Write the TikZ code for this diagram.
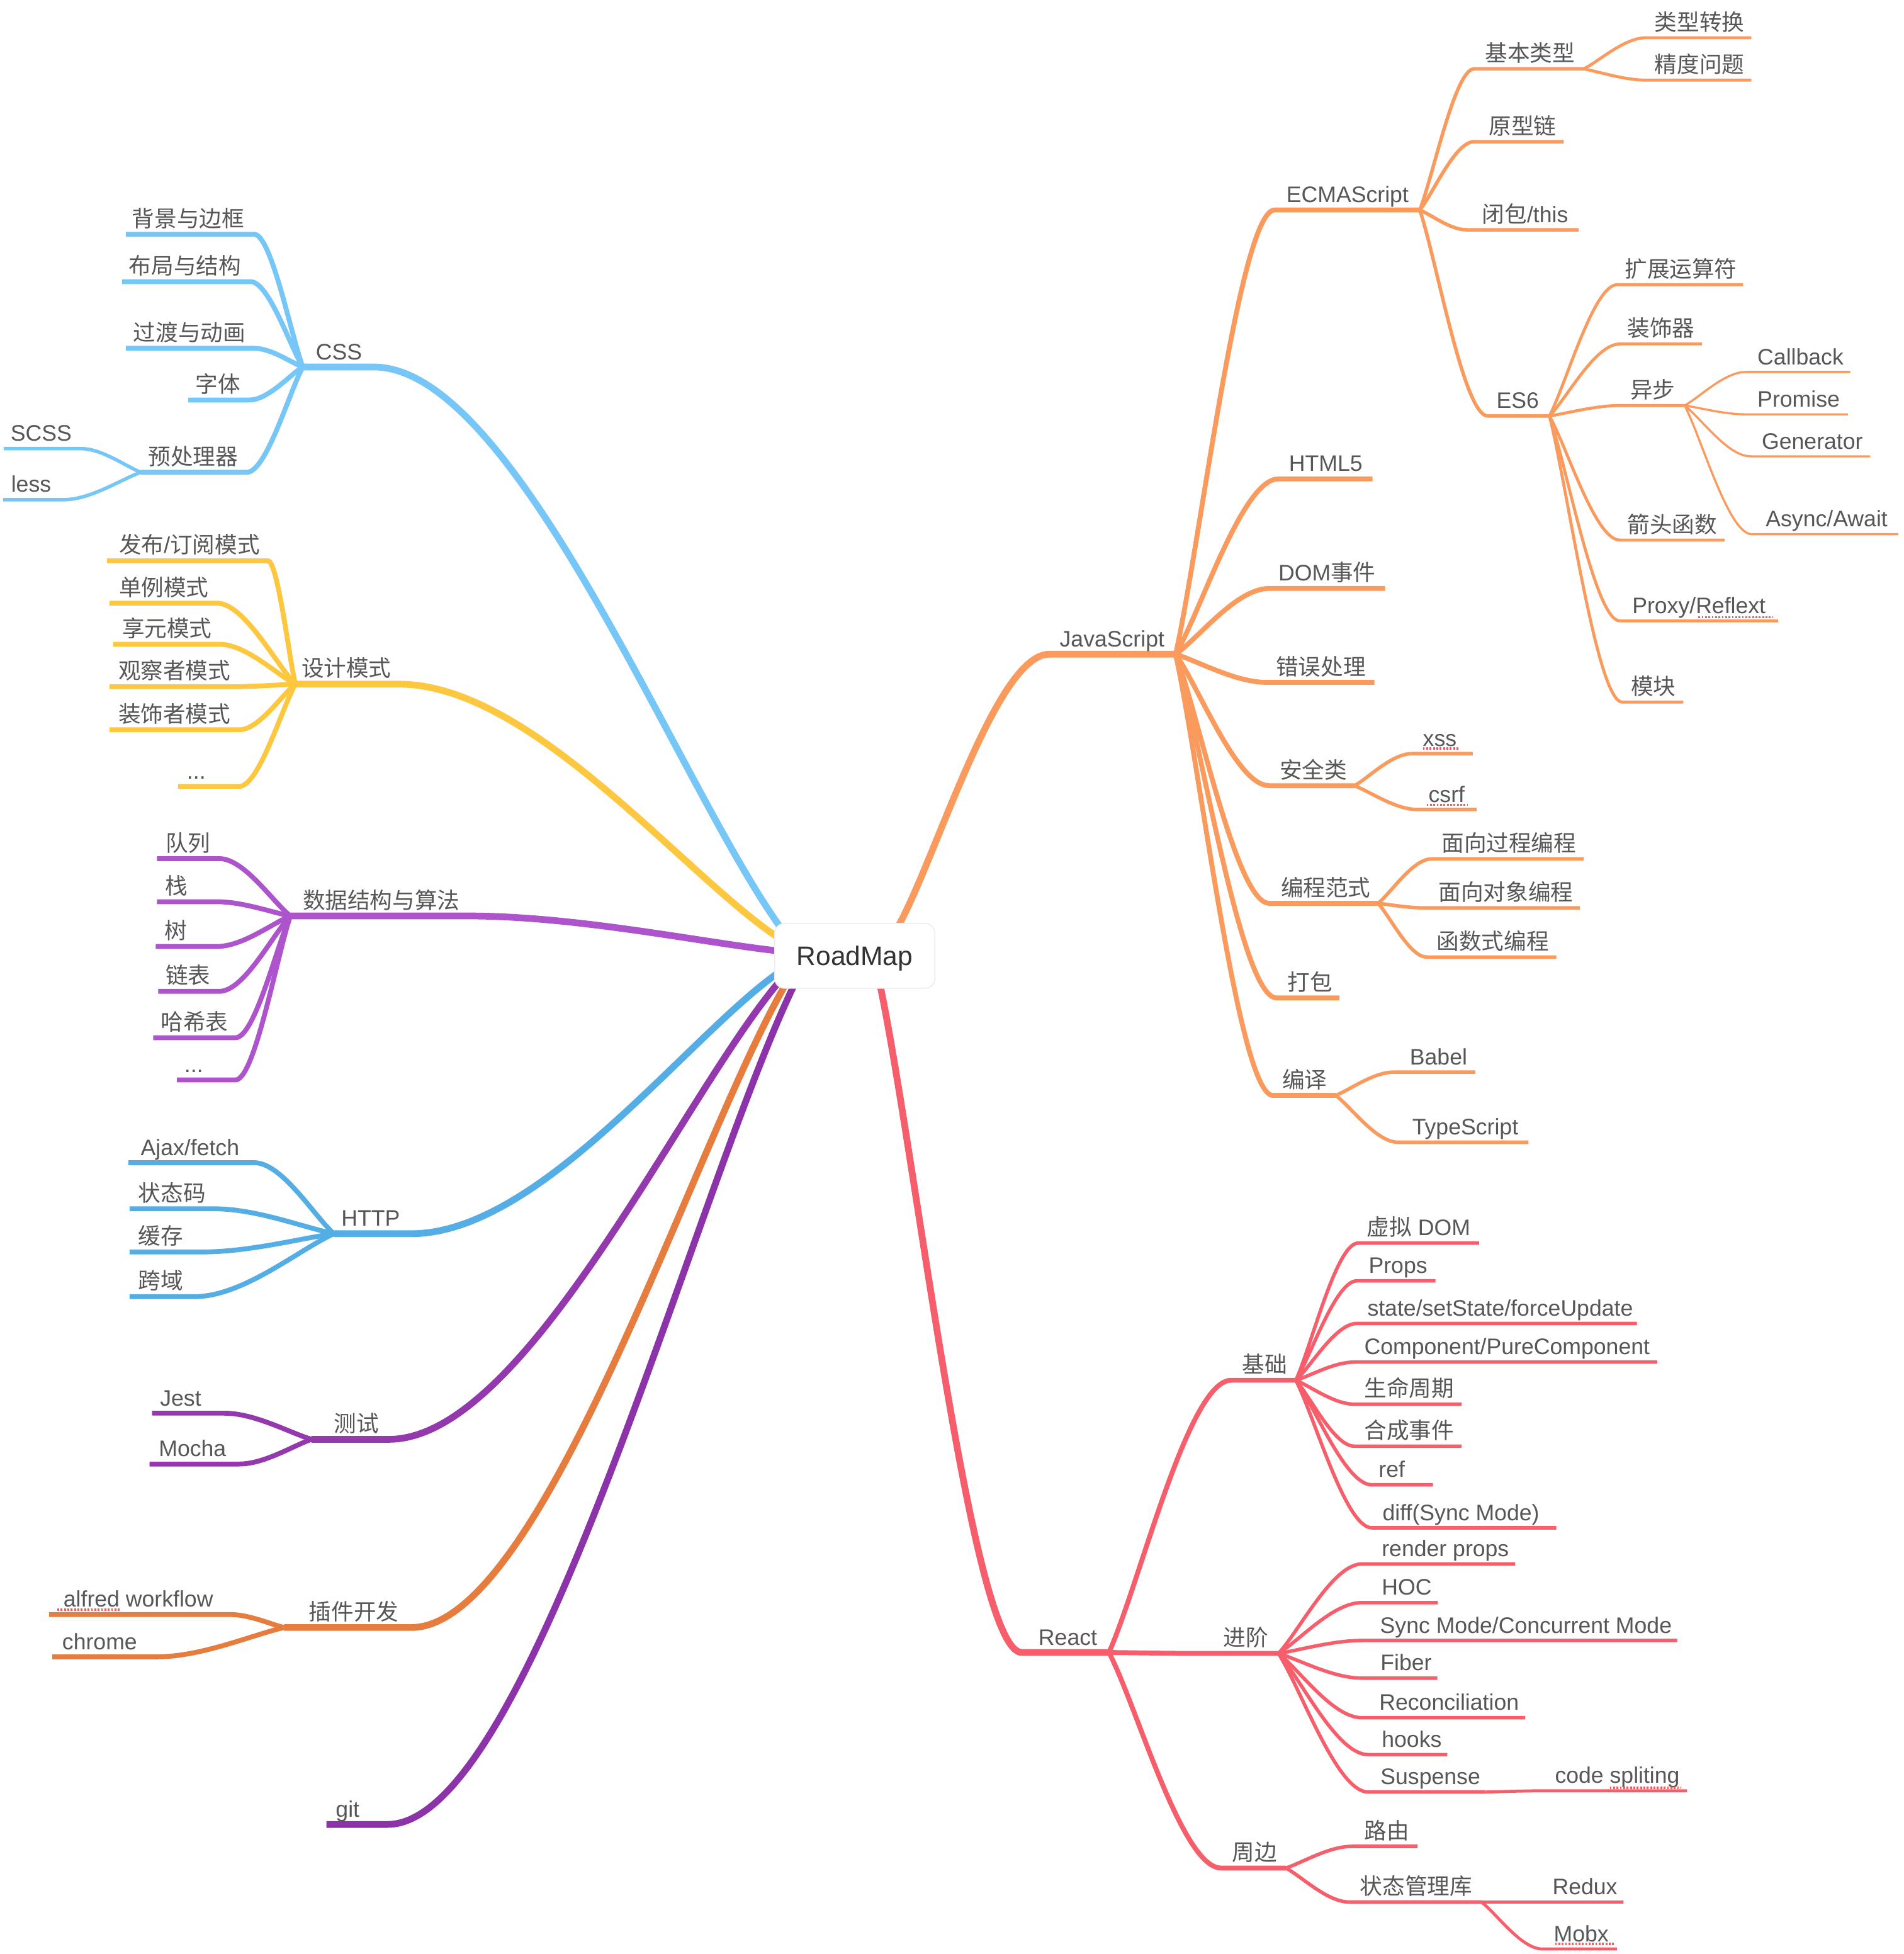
\documentclass[tikz,border=0pt]{standalone}
\usepackage{fontspec}
\setmainfont{Liberation Sans}
\newfontfamily\cjkfont{Noto Sans CJK SC}
\usetikzlibrary{calc}
\newcommand\zh[1]{{\cjkfont #1}}
\definecolor{txt}{HTML}{575757}
\definecolor{cjs}{HTML}{FA9A5C}
\definecolor{crc}{HTML}{F65E6B}
\definecolor{ccss}{HTML}{76C6F8}
\definecolor{cdp}{HTML}{FDC83F}
\definecolor{cds}{HTML}{AD54CD}
\definecolor{chttp}{HTML}{55ADE6}
\definecolor{ctest}{HTML}{9338AD}
\definecolor{cplug}{HTML}{E67D3E}
\definecolor{cgit}{HTML}{8C33AA}
\definecolor{spellred}{HTML}{F45A5A}
\pgfdeclarelayer{paper}
\pgfdeclarelayer{back}
\pgfsetlayers{paper,back,main}
% #1 name, #2 parent point, #3 near x, #4 far x, #5 y, #6 label centre x, #7 text, #8 style
\newcommand\br[8]{%
  \coordinate (#1a) at (#3,#5);
  \coordinate (#1b) at (#4,#5);
  \draw[#8] (#2) .. controls ($(#2)!0.25!(#1a)$) and ($(#1a)!0.35!(#2|-#1a)$) .. (#1a) -- (#1b);
  \node[lbl] (#1) at (#6,#5-6) {#7};
}
\begin{document}
\begin{tikzpicture}[x=1pt,y=-1pt,line cap=round,
  L1/.style={line width=5.4pt},
  L2/.style={line width=3.9pt},
  L3/.style={line width=2.8pt},
  L4/.style={line width=2.4pt},
  L5/.style={line width=1.7pt},
  lbl/.style={anchor=base,inner sep=0pt,text=txt,font=\fontsize{18}{21}\selectfont},
  rootbox/.style={draw=black!7,line width=0.8pt,fill=white,rounded corners=8pt,
    minimum width=128.5pt,minimum height=52pt,inner sep=0pt,text=black!80,
    text height=15.4pt,text depth=0pt,font=\fontsize{21.5}{24}\selectfont},
  spell/.style={draw=spellred,line width=1.9pt,line cap=butt,dash pattern=on 1.4pt off 1.3pt}]
\begin{pgfonlayer}{paper}
\fill[white] (0,0) rectangle (1528,1568);
\end{pgfonlayer}
\useasboundingbox (0,0) rectangle (1528,1568);

\node[rootbox] (root) at (686,767) {RoadMap};
\coordinate (rJS) at ($(root.center)+(35,-24)$);
\coordinate (rReact) at ($(root.center)+(20,22)$);
\coordinate (rCSS) at ($(root.center)+(-59,-22)$);
\coordinate (rDP) at ($(root.center)+(-62,-15)$);
\coordinate (rDS) at ($(root.center)+(-62,-4)$);
\coordinate (rHTTP) at ($(root.center)+(-62,14)$);
\coordinate (rTest) at ($(root.center)+(-60,20)$);
\coordinate (rPlug) at ($(root.center)+(-55,22)$);
\coordinate (rGit) at ($(root.center)+(-48,22)$);

\begin{pgfonlayer}{back}
% ---------------- JavaScript ----------------
\br{js}{rJS}{842}{943.5}{525}{892.5}{JavaScript}{cjs,L1}
\br{ecma}{jsb}{1023}{1139.5}{168.5}{1081.5}{ECMAScript}{cjs,L2}
\br{basic}{ecmab}{1183}{1271}{55.3}{1228}{\zh{基本类型}}{cjs,L3}
\br{conv}{basicb}{1321}{1405.5}{30.3}{1364}{\zh{类型转换}}{cjs,L4}
\br{prec}{basicb}{1321}{1405.5}{64.3}{1364}{\zh{精度问题}}{cjs,L4}
\br{proto}{ecmab}{1183}{1255}{113.7}{1222}{\zh{原型链}}{cjs,L3}
\br{closure}{ecmab}{1177}{1267}{184.4}{1224}{\zh{闭包}/this}{cjs,L3}
\br{es}{ecmab}{1194}{1243.5}{333.8}{1218}{ES6}{cjs,L3}
\br{spread}{esb}{1298}{1399}{228.4}{1349}{\zh{扩展运算符}}{cjs,L4}
\br{deco}{esb}{1300}{1366}{276}{1333}{\zh{装饰器}}{cjs,L4}
\br{async}{esb}{1300}{1352}{325.4}{1326.5}{\zh{异步}}{cjs,L4}
\br{cb}{asyncb}{1401}{1485}{298.5}{1445}{Callback}{cjs,L5}
\br{prom}{asyncb}{1401}{1483}{332.5}{1443.5}{Promise}{cjs,L5}
\br{gen}{asyncb}{1405}{1501}{366.2}{1454.5}{Generator}{cjs,L5}
\br{aw}{asyncb}{1406}{1523.6}{428.7}{1466}{Async/Await}{cjs,L5}
\br{arrow}{esb}{1300}{1384}{433.4}{1342}{\zh{箭头函数}}{cjs,L4}
\br{proxy}{esb}{1300}{1427}{498.2}{1363.5}{Proxy/Reflext}{cjs,L4}
\br{module}{esb}{1302}{1351}{563.4}{1327}{\zh{模块}}{cjs,L4}
\br{html}{jsb}{1026}{1101.5}{384.3}{1064}{HTML5}{cjs,L2}
\br{dom}{jsb}{1018.5}{1111.6}{472.2}{1065}{DOM\zh{事件}}{cjs,L2}
\br{err}{jsb}{1017}{1103}{547.6}{1060}{\zh{错误处理}}{cjs,L2}
\br{sec}{jsb}{1018.7}{1087}{630.5}{1054}{\zh{安全类}}{cjs,L2}
\br{xss}{secb}{1133}{1182}{604.8}{1155.5}{xss}{cjs,L3}
\br{csrf}{secb}{1137.5}{1185}{649.6}{1161}{csrf}{cjs,L3}
\br{para}{jsb}{1018.7}{1106}{724.9}{1064}{\zh{编程范式}}{cjs,L2}
\br{proc}{parab}{1149}{1271}{689.2}{1211}{\zh{面向过程编程}}{cjs,L3}
\br{oop}{parab}{1142}{1268}{728.5}{1208.5}{\zh{面向对象编程}}{cjs,L3}
\br{func}{parab}{1145}{1249}{768}{1198}{\zh{函数式编程}}{cjs,L3}
\br{pack}{jsb}{1024.5}{1075}{800.8}{1051.5}{\zh{打包}}{cjs,L2}
\br{comp}{jsb}{1021.6}{1072}{879}{1047}{\zh{编译}}{cjs,L2}
\br{babel}{compb}{1118.7}{1184}{860.3}{1154.5}{Babel}{cjs,L3}
\br{ts}{compb}{1122}{1226.7}{916.6}{1176}{TypeScript}{cjs,L3}
% ---------------- React ----------------
\br{react}{rReact}{820}{890}{1326}{857}{React}{crc,L1}
\br{base}{reactb}{988}{1040}{1107.6}{1015}{\zh{基础}}{crc,L2}
\br{vdom}{baseb}{1090}{1187}{997.5}{1138.5}{\zh{虚拟} DOM}{crc,L3}
\br{props}{baseb}{1089}{1152}{1027.8}{1122}{Props}{crc,L3}
\br{state}{baseb}{1089}{1313.7}{1062}{1204}{state/setState/forceUpdate}{crc,L3}
\br{compo}{baseb}{1087}{1330}{1093}{1209.5}{Component/PureComponent}{crc,L3}
\br{life}{baseb}{1087}{1173}{1126.8}{1131}{\zh{生命周期}}{crc,L3}
\br{syn}{baseb}{1087}{1173}{1160.5}{1131}{\zh{合成事件}}{crc,L3}
\br{ref}{baseb}{1101}{1150}{1191.5}{1117}{ref}{crc,L3}
\br{diff}{baseb}{1101}{1249}{1226}{1172.5}{diff(Sync Mode)}{crc,L3}
\br{adv}{reactb}{962}{1026}{1326.8}{1000}{\zh{进阶}}{crc,L2}
\br{rp}{advb}{1093}{1216}{1255}{1160}{render props}{crc,L3}
\br{hoc}{advb}{1093}{1154}{1286}{1129}{HOC}{crc,L3}
\br{sync}{advb}{1093}{1346}{1316.4}{1224.7}{Sync Mode/Concurrent Mode}{crc,L3}
\br{fiber}{advb}{1093}{1153.6}{1346.6}{1128.5}{Fiber}{crc,L3}
\br{recon}{advb}{1093}{1224}{1378.4}{1163}{Reconciliation}{crc,L3}
\br{hooks}{advb}{1098}{1161.5}{1408}{1133}{hooks}{crc,L3}
\br{susp}{advb}{1098}{1192}{1438}{1148}{Suspense}{crc,L3}
\br{code}{suspb}{1240}{1354}{1437}{1298}{code spliting}{crc,L4}
\br{peri}{reactb}{980}{1032}{1499}{1007}{\zh{周边}}{crc,L2}
\br{route}{perib}{1085}{1137.7}{1481.6}{1113}{\zh{路由}}{crc,L3}
\br{store}{perib}{1083}{1189}{1526.3}{1136.5}{\zh{状态管理库}}{crc,L3}
\br{redux}{storeb}{1235}{1303}{1526.3}{1272}{Redux}{crc,L4}
\br{mobx}{storeb}{1238}{1297.6}{1564}{1269}{Mobx}{crc,L4}
% ---------------- CSS ----------------
\br{css}{rCSS}{300}{243}{294.5}{272}{CSS}{ccss,L1}
\br{bg}{cssb}{204}{101}{188}{151}{\zh{背景与边框}}{ccss,L2}
\br{lay}{cssb}{201}{98}{226}{148.5}{\zh{布局与结构}}{ccss,L2}
\br{trans}{cssb}{204}{101}{279.5}{152}{\zh{过渡与动画}}{ccss,L2}
\br{font}{cssb}{200}{151}{321}{175}{\zh{字体}}{ccss,L2}
\br{pre}{cssb}{198}{113}{379}{155}{\zh{预处理器}}{ccss,L2}
\br{scss}{preb}{65}{3}{360}{33}{SCSS}{ccss,L3}
\br{less}{preb}{51}{2.5}{401}{25}{less}{ccss,L3}
% ---------------- Design patterns ----------------
\br{dp}{rDP}{320}{237}{549}{278}{\zh{设计模式}}{cdp,L1}
\br{pub}{dpb}{215}{86}{450}{152}{\zh{发布}/\zh{订阅模式}}{cdp,L2}
\br{single}{dpb}{174}{88}{484}{131.5}{\zh{单例模式}}{cdp,L2}
\br{fly}{dpb}{176}{91}{517}{134}{\zh{享元模式}}{cdp,L2}
\br{obs}{dpb}{187}{88}{551}{140}{\zh{观察者模式}}{cdp,L2}
\br{decp}{dpb}{192}{88}{585.6}{140}{\zh{装饰者模式}}{cdp,L2}
\br{dpmore}{dpb}{192}{143}{631}{157.5}{...}{cdp,L2}
% ---------------- Data structures ----------------
\br{ds}{rDS}{375}{233}{735}{306}{\zh{数据结构与算法}}{cds,L1}
\br{queue}{dsb}{176}{126}{689}{151}{\zh{队列}}{cds,L2}
\br{stack}{dsb}{174}{126}{723.6}{141.5}{\zh{栈}}{cds,L2}
\br{tree}{dsb}{174}{125}{759.5}{141}{\zh{树}}{cds,L2}
\br{list}{dsb}{176}{127}{795.5}{151}{\zh{链表}}{cds,L2}
\br{hash}{dsb}{189}{123}{832.7}{156}{\zh{哈希表}}{cds,L2}
\br{dsmore}{dsb}{189}{142}{866.6}{155.5}{...}{cds,L2}
% ---------------- HTTP ----------------
\br{http}{rHTTP}{330}{268}{990}{297.5}{HTTP}{chttp,L1}
\br{ajax}{httpb}{204}{103}{933}{152.5}{Ajax/fetch}{chttp,L2}
\br{status}{httpb}{172}{104}{970}{138}{\zh{状态码}}{chttp,L2}
\br{cache}{httpb}{163}{104}{1004.6}{129}{\zh{缓存}}{chttp,L2}
\br{cors}{httpb}{156}{104}{1040.5}{129}{\zh{跨域}}{chttp,L2}
% ---------------- Test ----------------
\br{test}{rTest}{312}{250}{1155}{286}{\zh{测试}}{ctest,L1}
\br{jest}{testb}{180}{122}{1134}{145}{Jest}{ctest,L2}
\br{mocha}{testb}{192}{120}{1174.8}{154.5}{Mocha}{ctest,L2}
% ---------------- Plugins ----------------
\br{plug}{rPlug}{330}{228}{1306}{284}{\zh{插件开发}}{cplug,L1}
\br{alfred}{plugb}{185}{39.5}{1295.6}{111}{alfred workflow}{cplug,L2}
\br{chrome}{plugb}{126}{42}{1329.5}{80}{chrome}{cplug,L2}
% ---------------- git ----------------
\br{git}{rGit}{311}{262}{1464}{279}{git}{cgit,L1}
\end{pgfonlayer}

% spell-check marks
\draw[spell] (1363,495.3) -- (1423,495.3);
\draw[spell] (1142,600.7) -- (1171,600.7);
\draw[spell] (1145,645.8) -- (1178,645.8);
\draw[spell] (1292,1434.5) -- (1349,1434.5);
\draw[spell] (1248,1560) -- (1296,1560);
\draw[spell] (46,1291.8) -- (96,1291.8);
\end{tikzpicture}
\end{document}
